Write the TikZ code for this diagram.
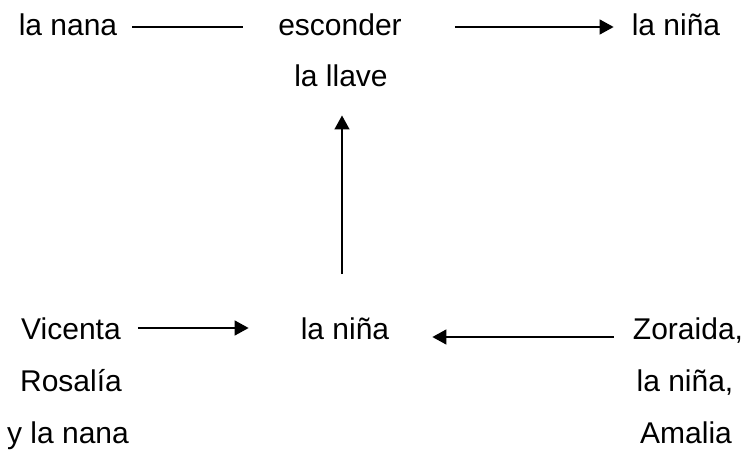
\documentclass[tikz,border=0pt]{standalone}
\usepackage{fontspec}
\setmainfont{Liberation Sans}
\usetikzlibrary{arrows.meta,calc}
\begin{document}
\begin{tikzpicture}[x=1pt,y=-1pt,
  txt/.style={inner sep=0pt,anchor=base,font=\fontsize{30}{36}\selectfont},
  conn/.style={line width=1.5pt},
  arr/.style={conn,-{Triangle[length=14pt,width=15pt]}}]
\fill[white] (0,0) rectangle (749,455);
\useasboundingbox (0,0) rectangle (749,455);
% texts
\node[txt] (nana) at (68,35) {la nana};
\node[txt] (esc) at (340,35) {esconder};
\node[txt] (llave) at (341,86) {la llave};
\node[txt] (ninatop) at (676,35) {la niña};
\node[txt] (vic) at (71,339) {Vicenta};
\node[txt] (ros) at (71,391) {Rosalía};
\node[txt] (ylana) at (68,443) {y la nana};
\node[txt] (ninamid) at (345,339) {la niña};
\node[txt] (zor) at (688,339) {Zoraida,};
\node[txt] (ninacom) at (685,391) {la niña,};
\node[txt] (amalia) at (686,443) {Amalia};
% connectors
\draw[conn] ($(nana.base east)+(15,-8)$) -- ($(esc.base west)+(-35,-8)$);
\draw[arr] ($(esc.base east)+(53,-8)$) -- ($(ninatop.base west)+(-18,-8)$);
\draw[arr] ($(ninamid.north -| llave.south)+(1,-43)$) -- ($(llave.south)+(1,29)$);
\draw[arr] ($(vic.base east)+(17,-11)$) -- ($(ninamid.base west)+(-52,-11)$);
\draw[arr] ($(zor.base west)+(-19,-2)$) -- ($(ninamid.base east)+(43,-2)$);
\end{tikzpicture}
\end{document}
